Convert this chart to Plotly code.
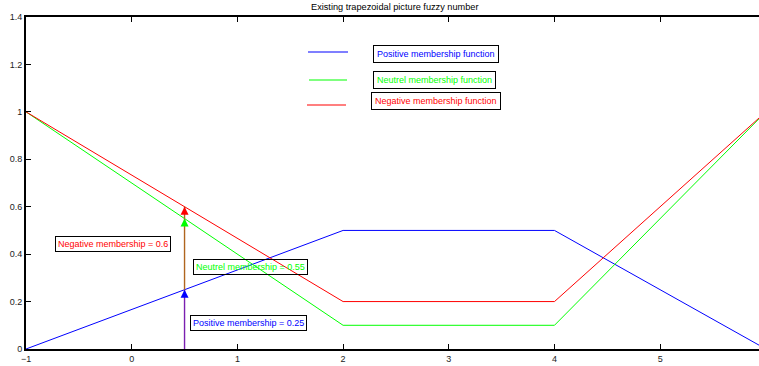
import plotly.graph_objects as go

# ---- data ----
x_pts = [-1, 2, 4, 6]
positive = [0.0, 0.5, 0.5, 0.0]
neutral = [1.0, 0.1, 0.1, 1.0]
negative = [1.0, 0.2, 0.2, 1.0]

x_query = 0.5
pos_value = 0.25
neu_value = 0.55
neg_value = 0.6

x_ticks = [-1, 0, 1, 2, 3, 4, 5]
y_ticks = [0, 0.2, 0.4, 0.6, 0.8, 1.0, 1.2, 1.4]
y_tick_labels = ["0", "0.2", "0.4", "0.6", "0.8", "1", "1.2", "1.4"]

title = "Existing trapezoidal picture fuzzy number"
legend_labels = ["Positive membership function", "Neutrel membership function",
                 "Negative membership function"]

BLUE, GREEN, RED = "#0000ff", "#00ff00", "#ff0000"
SHAFT = "#b0651e"
FONT = "Liberation Sans, Arial, sans-serif"

W, H = 759, 366
L, R, T, B = 26, 0, 17, 17
XMIN, XMAX = -1, 5.935
YMIN, YMAX = 0, 1.4
pw, ph = W - L - R, H - T - B


def px2paper(px, py):
    return (px - L) / pw, (H - B - py) / ph


fig = go.Figure()
for ys, c in [(positive, BLUE), (neutral, GREEN), (negative, RED)]:
    fig.add_trace(go.Scatter(x=x_pts, y=ys, mode="lines",
                             line=dict(color=c, width=1), hoverinfo="skip",
                             showlegend=False))

# arrow shafts at x_query
fig.add_trace(go.Scatter(x=[x_query, x_query], y=[0, pos_value], mode="lines",
                         line=dict(color="#7a1fb0", width=1.4), hoverinfo="skip",
                         showlegend=False))
fig.add_trace(go.Scatter(x=[x_query, x_query], y=[pos_value, neg_value], mode="lines",
                         line=dict(color=SHAFT, width=1.4), hoverinfo="skip",
                         showlegend=False))

# arrow heads
annotations = []
for v, c in [(neg_value, RED), (neu_value, GREEN), (pos_value, BLUE)]:
    annotations.append(dict(x=x_query, y=v, ax=0, ay=9, xref="x", yref="y",
                            showarrow=True, arrowhead=2, arrowsize=1.6,
                            arrowwidth=1, arrowcolor=c, text="", standoff=0))

# value labels
for txt, c, (px, py) in [
    (f"Negative membership = {neg_value}", RED, (113, 244)),
    (f"Neutrel membership = {neu_value}", GREEN, (250, 267)),
    (f"Positive membership = {pos_value}", BLUE, (248.5, 323)),
]:
    xp, yp = px2paper(px, py)
    annotations.append(dict(x=xp, y=yp, xref="paper", yref="paper", text=txt,
                            showarrow=False, font=dict(color=c, size=9, family=FONT),
                            bordercolor="black", borderwidth=1, borderpad=2,
                            xanchor="center", yanchor="middle"))

# legend: line segments + boxed labels
shapes = []
for (x0, x1, yl), c in [((308, 348, 52), BLUE), ((309, 347, 80), GREEN),
                        ((307, 346, 105), RED)]:
    a0, b0 = px2paper(x0, yl)
    a1, _ = px2paper(x1, yl)
    shapes.append(dict(type="line", xref="paper", yref="paper", x0=a0, x1=a1,
                       y0=b0, y1=b0, line=dict(color=c, width=1.2)))
for txt, c, (px, py) in zip(legend_labels, [BLUE, GREEN, RED],
                            [(436.5, 53.5), (434, 79.5), (436.5, 101.5)]):
    xp, yp = px2paper(px, py)
    annotations.append(dict(x=xp, y=yp, xref="paper", yref="paper", text=txt,
                            showarrow=False, font=dict(color=c, size=9, family=FONT),
                            bordercolor="black", borderwidth=1, borderpad=3,
                            xanchor="center", yanchor="middle"))

# title
tx, ty = px2paper(395, 7)
annotations.append(dict(x=tx, y=ty, xref="paper", yref="paper",
                        text=title, showarrow=False,
                        font=dict(size=9.2, color="black", family=FONT),
                        xanchor="center", yanchor="middle"))

fig.update_layout(
    width=W, height=H, margin=dict(l=L, r=R, t=T, b=B, pad=0, autoexpand=False),
    plot_bgcolor="white", paper_bgcolor="white",
    font=dict(family=FONT, size=9, color="#222"),
    annotations=annotations, shapes=shapes, showlegend=False,
    xaxis=dict(range=[XMIN, XMAX], tickvals=x_ticks, showgrid=False, zeroline=False,
               showline=True, linecolor="black", linewidth=2, mirror="ticks",
               ticks="inside", ticklen=5, tickcolor="black", tickwidth=1,
               automargin=False, tickfont=dict(size=9, color="#222")),
    yaxis=dict(range=[YMIN, YMAX], tickvals=y_ticks, ticktext=y_tick_labels,
               showgrid=False, zeroline=False, showline=True, linecolor="black",
               linewidth=2, mirror=False, ticks="inside", ticklen=5,
               automargin=False,
               tickcolor="black", tickwidth=1, tickfont=dict(size=9, color="#222")),
)

fig.write_html("out.html", config={"displayModeBar": False},
               post_script="document.body.style.margin='0px';document.body.style.overflow='hidden';")
